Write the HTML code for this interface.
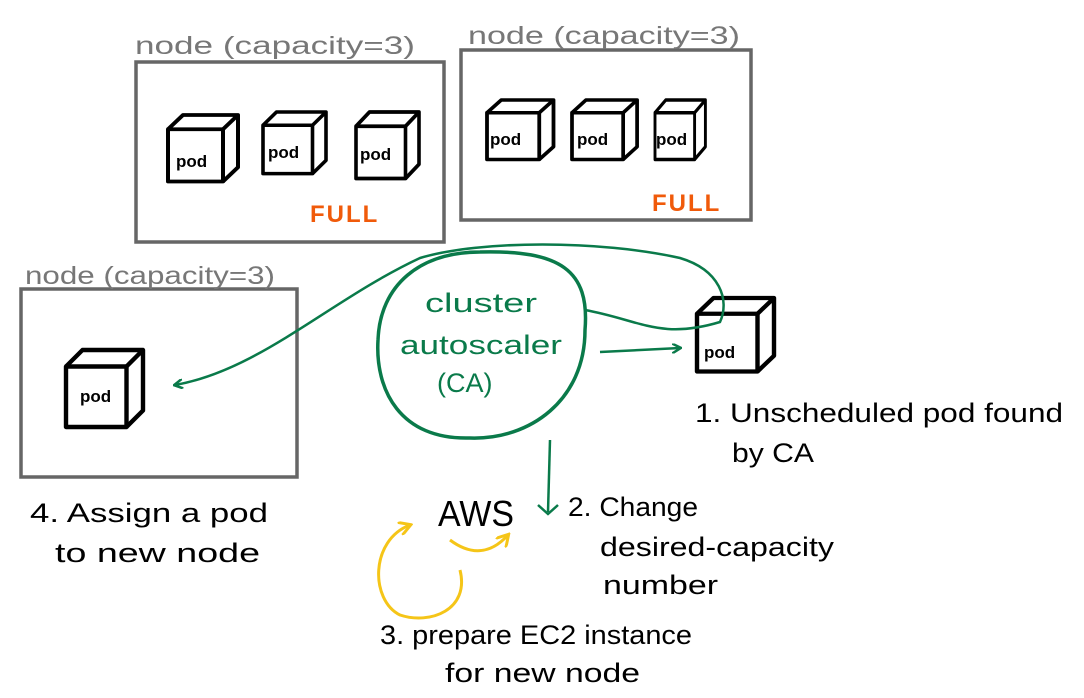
<!DOCTYPE html>
<html><head><meta charset="utf-8"><style>
body{margin:0;background:#fff}
svg{display:block}
text{font-family:"Liberation Sans",sans-serif}
</style></head><body>
<svg width="1084" height="698" viewBox="0 0 1084 698" xmlns="http://www.w3.org/2000/svg">
<defs>
<g id="cube" fill="none" stroke="#000" stroke-width="4" stroke-linejoin="round">
<rect x="0" y="15" width="55" height="55"/>
<path d="M0 15 L15 0 L70 0 L55 15 M70 0 L70 55 L55 70"/>
</g>
<marker id="ag" markerWidth="10" markerHeight="10" refX="8" refY="5" orient="auto" markerUnits="userSpaceOnUse"><path d="M0 0 L9 5 L0 10" fill="none" stroke="#0a7a4a" stroke-width="2.5"/></marker>
<marker id="ay" markerWidth="14" markerHeight="14" refX="11" refY="7" orient="auto" markerUnits="userSpaceOnUse"><path d="M0 0 L12 7 L0 14" fill="none" stroke="#f5c518" stroke-width="3"/></marker>
</defs>
<g fill="none" stroke="#666" stroke-width="3.5">
<rect x="136" y="62" width="308" height="180"/>
<rect x="461" y="50" width="290" height="170"/>
<rect x="21" y="289" width="276" height="188"/>
</g>
<g fill="#777" font-size="25">
<text x="135" y="54" textLength="280" lengthAdjust="spacingAndGlyphs">node (capacity=3)</text>
<text x="468" y="44" textLength="272" lengthAdjust="spacingAndGlyphs">node (capacity=3)</text>
<text x="25" y="284" textLength="250" lengthAdjust="spacingAndGlyphs">node (capacity=3)</text>
</g>
<use href="#cube" transform="translate(168,115) scale(1,0.95)"/>
<use href="#cube" transform="translate(263,112) scale(0.9,0.88)"/>
<use href="#cube" transform="translate(356,112) scale(0.9,0.95)"/>
<use href="#cube" transform="translate(487,100) scale(0.95,0.85)"/>
<use href="#cube" transform="translate(572,100) scale(0.93,0.85)"/>
<use href="#cube" transform="translate(655,100) scale(0.72,0.85)"/>
<use href="#cube" transform="translate(66,350) scale(1.1,1.1)"/>
<use href="#cube" transform="translate(697,298) scale(1.1,1.05)"/>
<g font-size="17" font-weight="bold">
<text x="176" y="167">pod</text><text x="268" y="158">pod</text><text x="360" y="160">pod</text>
<text x="490" y="145">pod</text><text x="577" y="145">pod</text><text x="656" y="145">pod</text>
<text x="80" y="402">pod</text><text x="704" y="358">pod</text>
</g>
<g fill="#f05a0a" font-size="24" font-weight="bold" letter-spacing="2">
<text x="310" y="222">FULL</text><text x="652" y="211">FULL</text>
</g>
<g fill="none" stroke="#0a7a4a" stroke-width="3.5">
<path d="M480 252 C560 250 590 270 585 330 C585 400 530 440 470 438 C400 440 375 390 378 340 C380 285 420 252 480 252 Z"/>
</g>
<g fill="none" stroke="#0a7a4a" stroke-width="2.5">
<path d="M600 352 L680 348" marker-end="url(#ag)"/>
<path d="M585 310 C640 320 660 340 720 322 C730 300 720 270 680 258 C600 240 480 240 420 258 C330 300 260 370 175 385" marker-end="url(#ag)"/>
<path d="M550 440 L548 512" />
<path d="M538 505 L548 514 L558 505"/>
</g>
<g fill="#0a7a4a" font-size="27">
<text x="425" y="312" textLength="112" lengthAdjust="spacingAndGlyphs">cluster</text>
<text x="400" y="354" textLength="162" lengthAdjust="spacingAndGlyphs">autoscaler</text>
<text x="437" y="392">(CA)</text>
</g>
<text x="438" y="526" font-size="36" textLength="76" lengthAdjust="spacingAndGlyphs">AWS</text>
<g fill="none" stroke="#f5c518" stroke-width="3">
<path d="M450 540 C470 555 490 555 508 535" marker-end="url(#ay)"/>
<path d="M460 570 C470 610 430 625 400 615 C370 600 370 540 410 525" marker-end="url(#ay)"/>
</g>
<g font-size="27" fill="#000" lengthAdjust="spacingAndGlyphs">
<text x="695" y="422" textLength="368" lengthAdjust="spacingAndGlyphs">1. Unscheduled pod found</text>
<text x="732" y="462" textLength="82" lengthAdjust="spacingAndGlyphs">by CA</text>
<text x="568" y="516" textLength="130" lengthAdjust="spacingAndGlyphs">2. Change</text>
<text x="600" y="556" textLength="234" lengthAdjust="spacingAndGlyphs">desired-capacity</text>
<text x="603" y="594" textLength="115" lengthAdjust="spacingAndGlyphs">number</text>
<text x="380" y="644" textLength="312" lengthAdjust="spacingAndGlyphs">3. prepare EC2 instance</text>
<text x="445" y="682" textLength="195" lengthAdjust="spacingAndGlyphs">for new node</text>
<text x="30" y="522" textLength="238" lengthAdjust="spacingAndGlyphs">4. Assign a pod</text>
<text x="55" y="562" textLength="205" lengthAdjust="spacingAndGlyphs">to new node</text>
</g>
</svg>
</body></html>
